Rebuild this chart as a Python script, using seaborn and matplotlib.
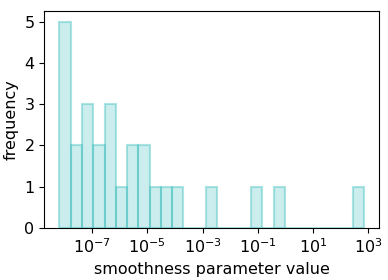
import numpy as np
import matplotlib

matplotlib.use("Agg")
import matplotlib.pyplot as plt
import seaborn as sns

# bin counts, 27 equal-width bins in log10 space
counts = [5, 2, 3, 2, 3, 1, 2, 2, 1, 1, 1, 0, 0, 1,
          0, 0, 0, 1, 0, 1, 0, 0, 0, 0, 0, 0, 1]
log_lo, log_hi = -8.185, 2.833
n_bins = len(counts)

edges = np.linspace(log_lo, log_hi, n_bins + 1)
centers = 10 ** ((edges[:-1] + edges[1:]) / 2)

sns.set_style("ticks")
plt.rcParams["font.family"] = ["DejaVu Sans"]
plt.rcParams["text.color"] = "black"
plt.rcParams["axes.labelcolor"] = "black"
plt.rcParams["xtick.color"] = "black"
plt.rcParams["ytick.color"] = "black"

fig, ax = plt.subplots(figsize=(3.88, 2.80), dpi=100)
fig.subplots_adjust(left=0.114, right=0.977, top=0.959, bottom=0.186)

sns.histplot(
    x=centers,
    weights=counts,
    bins=n_bins,
    binrange=(log_lo, log_hi),
    log_scale=True,
    facecolor=(0.25, 0.75, 0.75, 0.27),
    edgecolor=(0.25, 0.75, 0.75, 0.42),
    linewidth=1.5,
    ax=ax,
)

for s in ax.spines.values():
    s.set_visible(True)
    s.set_color("black")
    s.set_linewidth(0.8)

ax.set_xticks([1e-7, 1e-5, 1e-3, 1e-1, 1e1, 1e3])
ax.minorticks_off()
ax.set_yticks(range(6))
ax.tick_params(labelsize=11.5, length=3.5, width=0.8, colors="black")
ax.set_xlabel("smoothness parameter value", fontsize=11.5)
ax.set_ylabel("frequency", fontsize=11.5)

plt.savefig("out.png", dpi=100)
plt.close()
